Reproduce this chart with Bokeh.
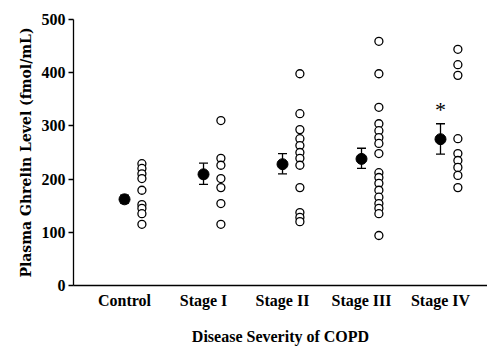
from bokeh.plotting import figure
from bokeh.models import ColumnDataSource, Whisker, TeeHead, FixedTicker, Label
from bokeh.embed import file_html
from bokeh.resources import INLINE

categories = ["Control", "Stage I", "Stage II", "Stage III", "Stage IV"]
means = [162, 209, 228, 238, 275]
sem_low = [155, 190, 210, 220, 247]
sem_high = [170, 230, 248, 258, 304]

control_pts = [229, 220, 210, 201, 179, 152, 145, 135, 115]
stage1_pts = [310, 239, 226, 201, 184, 154, 115]
stage2_pts = [398, 323, 293, 276, 263, 250, 239, 226, 184, 137, 128, 120]
stage3_pts = [459, 398, 335, 304, 291, 278, 267, 248, 212, 203, 192, 179, 166, 154, 145, 135, 94]
stage4_pts = [444, 415, 395, 276, 248, 235, 222, 207, 184]
groups = [control_pts, stage1_pts, stage2_pts, stage3_pts, stage4_pts]
y_ticks = [0, 100, 200, 300, 400, 500]
star_group = 4

font = "Liberation Serif"

p = figure(width=487, height=347, output_backend="svg", toolbar_location=None,
           x_range=(-0.646, 4.595), y_range=(0, 500),
           min_border_left=73, min_border_right=0, min_border_top=19, min_border_bottom=62)
p.grid.visible = False
p.outline_line_color = None
p.background_fill_color = "white"

# individual points
px, py = [], []
for i, g in enumerate(groups):
    for v in g:
        px.append(i + 0.22)
        py.append(v)
p.scatter(px, py, size=8, marker="circle", fill_color="white", line_color="black", line_width=1.3)

# mean +/- SEM
xs = list(range(len(categories)))
src = ColumnDataSource(dict(x=xs, m=means, lo=sem_low, hi=sem_high))
w = Whisker(source=src, base="x", lower="lo", upper="hi", line_color="black", line_width=1.3,
            lower_head=TeeHead(size=9, line_color="black", line_width=1.3),
            upper_head=TeeHead(size=9, line_color="black", line_width=1.3))
p.add_layout(w)
p.scatter("x", "m", source=src, size=11, marker="circle", fill_color="black", line_color="black")

p.add_layout(Label(x=star_group, y=sem_high[star_group] + 3, text="*", text_font=font,
                   text_font_size="22px", text_align="center", text_baseline="bottom",
                   text_color="black"))

# axes
for ax in (p.xaxis, p.yaxis):
    ax.axis_line_color = "black"
    ax.axis_line_width = 1.3
    ax.minor_tick_line_color = None
    ax.major_label_text_color = "black"
    ax.major_label_text_font = font
    ax.major_label_text_font_style = "bold"
    ax.major_label_text_font_size = "16px"
    ax.axis_label_text_color = "black"
    ax.axis_label_text_font_style = "bold"

p.yaxis.ticker = FixedTicker(ticks=y_ticks)
p.yaxis.major_tick_out = 5
p.yaxis.major_tick_in = 0
p.yaxis.major_tick_line_color = "black"
p.yaxis.major_tick_line_width = 1.3
p.yaxis.major_label_standoff = 3
p.yaxis.axis_label = "Plasma Ghrelin Level (fmol/mL)"
p.yaxis.axis_label_text_font = "DejaVu Serif"
p.yaxis.axis_label_text_font_size = "14px"
p.yaxis.axis_label_standoff = 5

p.xaxis.ticker = FixedTicker(ticks=xs)
p.xaxis.major_label_overrides = {i: c for i, c in enumerate(categories)}
p.xaxis.major_tick_line_color = None
p.xaxis.major_label_standoff = 0
p.xaxis.axis_label = "Disease Severity of COPD"
p.xaxis.axis_label_text_font = font
p.xaxis.axis_label_text_font_size = "16px"
p.xaxis.axis_label_standoff = 16

open("out.html", "w").write(file_html(p, INLINE))
